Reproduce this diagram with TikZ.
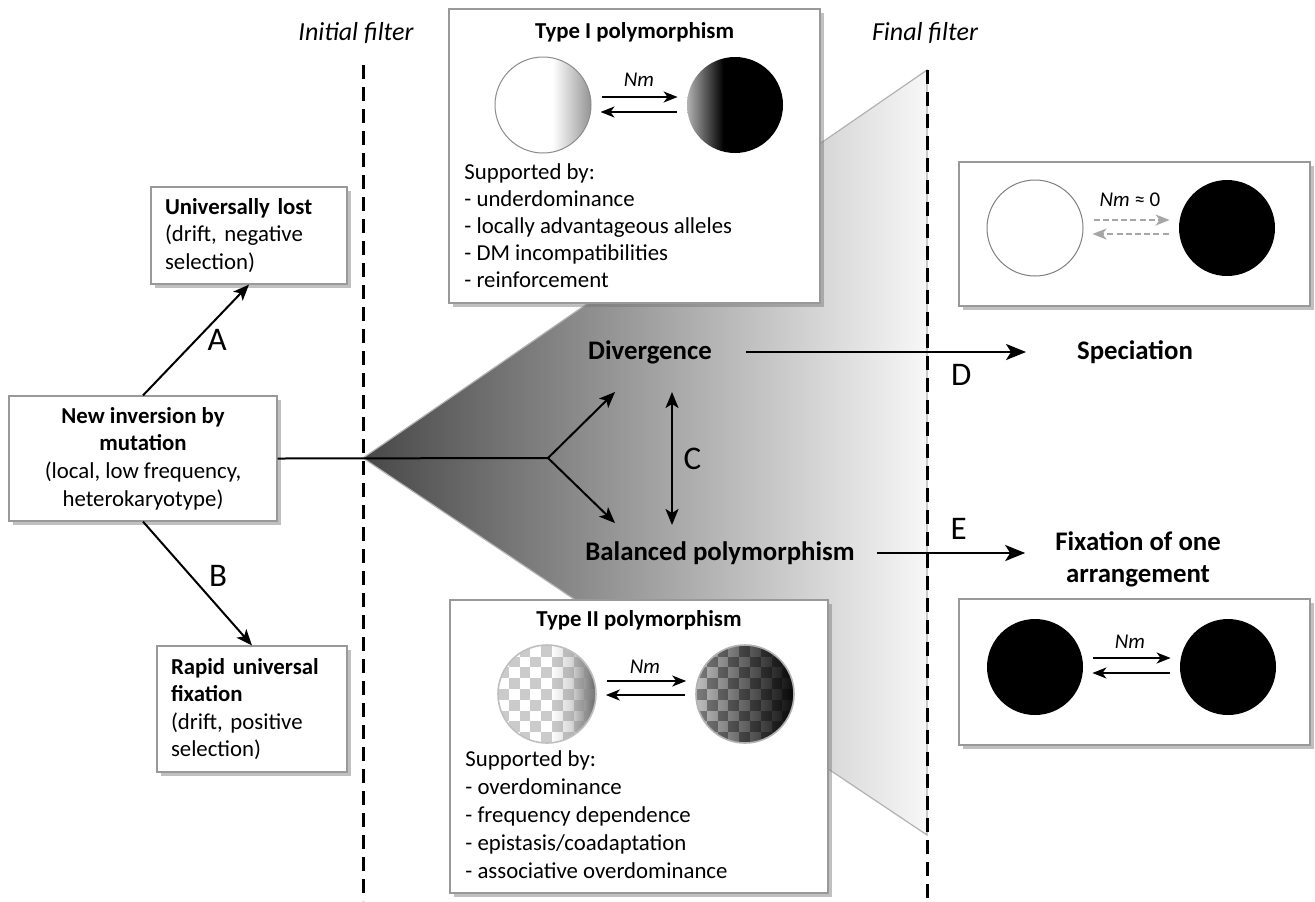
\documentclass[tikz,border=0pt]{standalone}
\usepackage{fontspec}
\setmainfont{Carlito}
\usetikzlibrary{calc, shadows}
\usetikzlibrary{arrows.meta}
\usetikzlibrary{positioning}

% shadings for the arrangement circles
\pgfdeclarehorizontalshading{whitefade}{100bp}{color(0bp)=(white); color(55bp)=(white); color(75bp)=(black!42); color(100bp)=(black!42)}
\pgfdeclarehorizontalshading{blackfade}{100bp}{color(0bp)=(black!30); color(25bp)=(black!30); color(44bp)=(black); color(100bp)=(black)}
\pgfdeclarehorizontalshading{whitefadeII}{100bp}{color(0bp)=(white); color(52bp)=(white); color(62bp)=(black!15); color(75bp)=(black!60); color(100bp)=(black!60)}
\pgfdeclarehorizontalshading{greyfadeII}{100bp}{color(0bp)=(black!25); color(25bp)=(black!25); color(45bp)=(black!55); color(75bp)=(black!95); color(100bp)=(black!95)}

\begin{document}
\begin{tikzpicture}[
    x=0.5pt, y=-0.5pt,
    >={Stealth[length=8pt, width=6.5pt, inset=2pt]},
    box/.style={draw=black!40, fill=white, line width=0.6pt,
                drop shadow={shadow xshift=2.2pt, shadow yshift=-2.2pt,
                             fill=black!55, opacity=0.45}},
    body/.style={font=\fontsize{11.4}{13.6}\selectfont},
    sidebox/.style={box, body, align=left, inner xsep=7pt},
    title/.style={font=\fontsize{11.4}{13.6}\selectfont\bfseries},
    stage/.style={font=\fontsize{13.4}{16}\selectfont\bfseries, align=center},
    letter/.style={font=\fontsize{16.5}{18}\selectfont},
    filterlabel/.style={font=\fontsize{13}{15}\selectfont\itshape},
    filterline/.style={line width=1.5pt, dash pattern=on 7pt off 4pt},
    nmlabel/.style={font=\fontsize{10.5}{12}\selectfont\itshape},
    allele/.style={circle, minimum size=48pt, inner sep=0pt},
    bigarrow/.style={->, >={Stealth[length=10pt, width=8pt, inset=2.5pt]}, line width=1.2pt},
    midarrow/.style={->, line width=1pt},
    flow/.style={->, >={Stealth[length=7pt, width=5.5pt, inset=2pt]}, line width=0.9pt,
                 shorten <=5pt, shorten >=4.5pt},
    noflow/.style={flow, draw=black!35, dash pattern=on 3pt off 1.6pt},
]

\useasboundingbox (0,0) rectangle (1315,901);

% ── Checkerboard overlay for the Type II circles ──
% Args: square colour, opacity
\newcommand{\checkers}[2]{
    \foreach \i in {0,...,9} {
        \foreach \j in {0,...,9} {
            \pgfmathparse{int(mod(\i+\j,2))}
            \ifnum\pgfmathresult=0
                \fill[#1, opacity=#2] ($(path picture bounding box.south west)+(\i*5.4pt,\j*5.4pt)$)
                    rectangle ++(5.4pt,5.4pt);
            \fi
        }
    }
}

% ══════════════════════════════════════════════════════════════
% Wedge of outcomes between the two filters
% ══════════════════════════════════════════════════════════════
\coordinate (apex) at (363,458);
\coordinate (wedgeTop) at (927,70);
\coordinate (wedgeBot) at (927,835);
\shade[left color=black!72, right color=black!3, draw=black!30, line width=0.6pt]
    (apex) -- (wedgeTop) -- (wedgeBot) -- cycle;

% ── Filters ──
\node[filterlabel] (initLbl) at (356,33) {Initial filter};
\node[filterlabel] (finalLbl) at (925,33) {Final filter};
\coordinate (initTop) at (363,65);
\coordinate (initBot) at (363,901);
\coordinate (finalTop) at (927,70);
\coordinate (finalBot) at (927,901);

% ══════════════════════════════════════════════════════════════
% Left: new inversion and the two quick fates
% ══════════════════════════════════════════════════════════════
\node[box, body, align=center, minimum width=134pt, minimum height=62.5pt,
      font=\fontsize{11.4}{13.8}\selectfont] (new) at (143,458.5)
    {\textbf{New inversion by}\\\textbf{mutation}\\(local, low frequency,\\heterokaryotype)};

\node[sidebox, text width=84pt, minimum height=48.5pt] (lost) at (249,235.5)
    {\textbf{Universally lost}\\(drift, negative\\selection)};

\node[sidebox, text width=81pt, minimum height=63pt] (rapid) at (252,709)
    {\textbf{Rapid universal}\\\textbf{fixation}\\(drift, positive\\selection)};

\draw[midarrow, line width=1pt] (new.north) -- (lost.south)
    node[midway, right=2pt, letter] (lblA) {A};
\draw[midarrow, line width=1pt] (new.south) -- (rapid.north)
    node[midway, right=2pt, yshift=4pt, letter] (lblB) {B};

% ══════════════════════════════════════════════════════════════
% Type I polymorphism (top)
% ══════════════════════════════════════════════════════════════
\node[box, minimum width=185.5pt, minimum height=147pt] (t1box) at (634.5,156) {};
\node[title] (t1title) at (634.5,32) {Type I polymorphism};
\node[allele, shading=whitefade, draw=black!45, line width=0.5pt] (t1L) at (543,105) {};
\node[allele, shading=blackfade] (t1R) at (735,105) {};
\draw[flow] ([yshift=4pt]t1L.east) -- ([yshift=4pt]t1R.west);
\draw[flow] ([yshift=-3.5pt]t1R.west) -- ([yshift=-3.5pt]t1L.east);
\node[nmlabel] (t1nm) at (639,80) {Nm};
\node[body, anchor=west, align=left, inner sep=0pt,
      font=\fontsize{11.4}{13.5}\selectfont] (t1list) at (464,226)
    {Supported by:\\- underdominance\\- locally advantageous alleles\\- DM incompatibilities\\- reinforcement};

% ══════════════════════════════════════════════════════════════
% Type II polymorphism (bottom)
% ══════════════════════════════════════════════════════════════
\node[box, minimum width=189pt, minimum height=146.5pt] (t2box) at (639,746.5) {};
\node[title] (t2title) at (639,620) {Type II polymorphism};
\node[allele, minimum size=49pt, shading=whitefadeII, draw=black!25, line width=0.8pt,
      path picture={\checkers{black!45}{0.45}}] (t2L) at (547,694) {};
\node[allele, minimum size=49pt, shading=greyfadeII, draw=black!30, line width=0.8pt,
      path picture={\checkers{black}{0.35}}] (t2R) at (745,694) {};
\draw[flow] ([yshift=6.5pt]t2L.east) -- ([yshift=6.5pt]t2R.west);
\draw[flow] ([yshift=-0.5pt]t2R.west) -- ([yshift=-0.5pt]t2L.east);
\node[nmlabel] (t2nm) at (645,667) {Nm};
\node[body, anchor=west, align=left, inner sep=0pt,
      font=\fontsize{11.4}{14}\selectfont] (t2list) at (465,815)
    {Supported by:\\- overdominance\\- frequency dependence\\- epistasis/coadaptation\\- associative overdominance};

% ══════════════════════════════════════════════════════════════
% Middle: divergence vs balanced polymorphism
% ══════════════════════════════════════════════════════════════
\node[stage] (div) at (650,352) {Divergence};
\node[stage] (bal) at (720,553) {Balanced polymorphism};
\coordinate (split) at (548,458);
\coordinate (divIn) at (615,392);
\coordinate (balIn) at (615,523);
\coordinate (cTop) at (672,392);
\coordinate (cBot) at (672,525);

\draw[line width=1pt] (new.east) -- (split);
\draw[midarrow] (split) -- (divIn);
\draw[midarrow] (split) -- (balIn);
\draw[midarrow, <->] (cTop) -- (cBot) node[midway, right=2pt, letter] (lblC) {C};

% ══════════════════════════════════════════════════════════════
% Right: final outcomes
% ══════════════════════════════════════════════════════════════
\node[stage] (spec) at (1135,352) {Speciation};
\node[stage] (fix) at (1138,559) {Fixation of one\\arrangement};

\draw[bigarrow, shorten <=13.5pt, shorten >=22pt] (div.east) -- (spec.west)
    node[pos=0.69, below=2pt, letter] (lblD) {D};
\draw[bigarrow, shorten <=7.5pt, shorten >=11.5pt] (bal.east) -- (bal.east -| fix.west)
    node[pos=0.52, above=3pt, letter] (lblE) {E};

% ── Speciation: no gene flow ──
\node[box, minimum width=175.5pt, minimum height=72pt] (spBox) at (1134.5,234) {};
\node[allele, fill=white, draw=black!50, line width=0.5pt] (spL) at (1035,228) {};
\node[allele, fill=black] (spR) at (1227,228) {};
\draw[noflow, ->, >={Stealth[length=7pt, width=5.5pt, inset=2pt, fill=black!35]}]
    ([yshift=4pt]spL.east) -- ([yshift=4pt]spR.west);
\draw[noflow, ->, >={Stealth[length=7pt, width=5.5pt, inset=2pt, fill=black!35]}]
    ([yshift=-3pt]spR.west) -- ([yshift=-3pt]spL.east);
\node[nmlabel, font=\fontsize{10.5}{12}\selectfont] (spNm) at (1130,200) {\textit{Nm} ≈ 0};

% ── Fixation: gene flow between fixed populations ──
\node[box, minimum width=175.5pt, minimum height=73pt] (fxBox) at (1134.5,672) {};
\node[allele, fill=black] (fxL) at (1035,667) {};
\node[allele, fill=black] (fxR) at (1228,667) {};
\draw[flow] ([yshift=4.5pt]fxL.east) -- ([yshift=4.5pt]fxR.west);
\draw[flow] ([yshift=-3pt]fxR.west) -- ([yshift=-3pt]fxL.east);
\node[nmlabel] (fxNm) at (1130,642) {Nm};

% ── Filter lines on top ──
\draw[filterline] (initTop) -- (initBot);
\draw[filterline] (finalTop) -- (finalBot);

\end{tikzpicture}
\end{document}
